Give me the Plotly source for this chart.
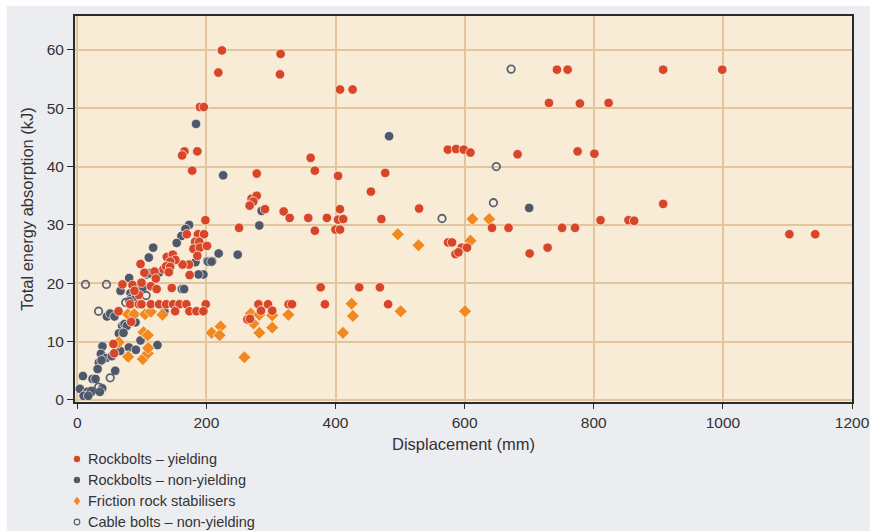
import plotly.graph_objects as go

# ---------------- data (displacement mm, energy kJ) ----------------
yield_x = [224, 218.5, 190, 196, 166, 162.4, 186, 178, 278,
           315, 314, 407, 426.5, 361.5, 368, 404, 477,
           454.8, 270, 278, 272.7, 267, 290.8, 319.7, 329, 357.8, 386.7, 404, 412, 406.8, 471, 368, 400, 407, 250.6, 198.5,
           377, 436.7, 468.7,
           383.6, 280.5, 295.4, 327.4, 332.6, 284.6, 302, 263.5, 267.6, 481.5,
           743, 759.5, 730.6, 778.5, 823, 574, 586.7, 598.6, 609, 682, 775, 801, 529.5, 810.5,
           642.4, 668, 751, 771, 574.3, 580.5, 595.5, 603.7, 585.8, 590.4, 700.7, 728.5,
           907.5, 999, 907.5, 853.8, 862.6, 1103, 1143,
           187, 196.4, 182.5, 189, 180, 190, 201, 186, 169.7, 173, 163, 138.7, 148, 152, 143.9, 133.5, 137.7, 143.9, 141.8,
           104, 119.6, 121.7, 174, 98, 70, 85.5, 99.5, 114, 146.4, 95.4, 88.6, 123,
           82, 95.4, 99.5, 114, 126.8, 137.7, 148.5, 158.3, 169, 199,
           63.9, 151.6, 173.7, 184.5, 195.4,
           83.5, 56, 57.2]
yield_y = [59.9, 56.1, 50.2, 50.2, 42.6, 41.9, 42.6, 39.3, 38.8,
           59.3, 55.8, 53.2, 53.2, 41.5, 39.3, 38.4, 38.9,
           35.7, 34.5, 35.0, 34.0, 33.3, 32.7, 32.3, 31.2, 31.2, 31.2, 30.9, 31.0, 32.7, 31.0, 29.0, 29.2, 29.2, 29.5, 30.8,
           19.3, 19.3, 19.3,
           16.4, 16.4, 16.4, 16.4, 16.4, 15.3, 15.3, 13.8, 13.9, 16.4,
           56.6, 56.6, 50.9, 50.8, 50.9, 42.9, 43.0, 42.9, 42.4, 42.1, 42.6, 42.2, 32.8, 30.8,
           29.5, 29.5, 29.5, 29.5, 27.0, 27.0, 26.1, 26.1, 25.0, 25.3, 25.1, 26.1,
           56.6, 56.6, 33.6, 30.8, 30.7, 28.4, 28.4,
           28.4, 28.4, 27.1, 27.1, 25.9, 26.1, 26.4, 24.7, 28.4, 23.2, 23.2, 24.5, 24.9, 24.0, 23.7, 22.4, 22.9, 22.8, 21.9,
           21.8, 22.0, 20.8, 21.4, 23.3, 19.8, 19.7, 20.1, 19.5, 19.2, 18.0, 18.7, 19.0,
           16.4, 16.4, 16.4, 16.4, 16.4, 16.4, 16.4, 16.4, 16.4, 16.4,
           15.2, 15.2, 15.2, 15.2, 15.2,
           13.4, 9.6, 8.0]

nonyield_x = [184, 226, 285.6, 282, 219, 248.5, 201, 209, 195.4, 187.7, 483, 700,
              173.2, 167.5, 161.3, 154, 117.6, 110.8, 183, 202.6, 208, 126.8, 107.8, 111.9, 80.4, 162, 165.5,
              67, 82.5, 98, 101.5, 83.5, 89.7, 81, 135, 46, 51, 57.7, 90.2, 69.6, 73.2, 76.8, 64.4, 71.6,
              39, 36.6, 44.8, 53.6, 66.5, 80, 90.8, 98, 124.2, 33.4, 37.6, 31.5, 58.8, 8.8, 23.7, 28.3,
              4.1, 15.5, 21.7, 38.7, 35, 9.8, 17]
nonyield_y = [47.3, 38.5, 32.4, 29.9, 25.1, 24.9, 23.8, 23.8, 21.5, 21.5, 45.2, 32.9,
              30.0, 29.3, 28.1, 26.9, 26.1, 24.4, 23.6, 23.7, 23.7, 21.8, 21.5, 21.7, 20.9, 19.0, 19.0,
              18.7, 18.3, 19.8, 19.3, 17.4, 17.4, 16.9, 15.2, 14.3, 14.8, 14.3, 13.3, 12.7, 13.0, 12.7, 11.4, 11.5,
              9.2, 7.9, 7.2, 7.5, 8.4, 9.0, 8.6, 10.2, 9.4, 6.4, 6.8, 5.3, 5.0, 4.1, 3.6, 3.6,
              1.9, 1.4, 1.4, 2.0, 1.4, 0.7, 0.7]

friction_x = [268.7, 282, 302, 327, 273, 302, 282, 222, 208, 220.5, 258.8, 425, 427, 411.5,
              612, 638, 496.5, 528.5, 609, 501, 600.6,
              78.4, 88.2, 105, 114, 132, 102.6, 109.3, 64.4, 78.9, 101.6, 109.3, 109.8]
friction_y = [14.8, 14.6, 14.5, 14.6, 13.1, 12.4, 11.5, 12.6, 11.5, 11.1, 7.3, 16.5, 14.4, 11.5,
              31.0, 31.0, 28.4, 26.5, 27.3, 15.2, 15.2,
              14.7, 14.7, 14.7, 15.1, 14.6, 11.6, 11.1, 9.9, 7.4, 7.0, 8.0, 8.9]

cable_x = [672, 649, 644.6, 565, 12.8, 45.3, 33, 106.7, 75, 51, 22, 33]
cable_y = [56.7, 40.0, 33.8, 31.1, 19.8, 19.8, 15.2, 17.9, 16.7, 3.8, 1.5, 2.2]

series_names = ["Rockbolts – yielding", "Rockbolts – non-yielding",
                "Friction rock stabilisers", "Cable bolts – non-yielding"]

x_ticks = [0, 200, 400, 600, 800, 1000, 1200]
y_ticks = [0, 10, 20, 30, 40, 50, 60]

# ---------------- styles ----------------
RED = "#D8462A"
GREY = "#4E586B"
ORANGE = "#F0891F"
OPEN = "#5A6376"
PLOT_BG = "#F9ECD7"
GRID = "#E2C59C"
PANEL = "#ECEDF1"
FONT = "Liberation Sans, Arial, Helvetica, sans-serif"
edge = dict(width=0.8, color="rgba(255,245,230,0.9)")

W, H = 870, 531
ML, MR, MT, MB = 75, 18, 16, 129
PW, PH = W - ML - MR, H - MT - MB


def px_to_paper(px, py):
    return (px - ML) / PW, (H - MB - py) / PH


fig = go.Figure()
fig.add_trace(go.Scatter(x=nonyield_x, y=nonyield_y, mode="markers", name=series_names[1], showlegend=False,
                         marker=dict(symbol="circle", size=9.5, color=GREY, line=edge)))
fig.add_trace(go.Scatter(x=cable_x, y=cable_y, mode="markers", name=series_names[3], showlegend=False,
                         marker=dict(symbol="circle-open", size=7.5, color=OPEN, line=dict(width=1.8))))
fig.add_trace(go.Scatter(x=friction_x, y=friction_y, mode="markers", name=series_names[2], showlegend=False,
                         marker=dict(symbol="diamond", size=10, color=ORANGE, line=edge)))
fig.add_trace(go.Scatter(x=yield_x, y=yield_y, mode="markers", name=series_names[0], showlegend=False,
                         marker=dict(symbol="circle", size=9.5, color=RED, line=edge)))

# ---------------- manual legend below the plot ----------------
shapes = [
    dict(type="rect", xref="paper", yref="paper", x0=-0.088, x1=1.03, y0=-0.34, y1=1.026,
         fillcolor=PANEL, line=dict(width=0), layer="below"),
    dict(type="rect", xref="paper", yref="paper", x0=0, x1=1, y0=0, y1=1,
         fillcolor=PLOT_BG, line=dict(width=0), layer="below"),
]
annotations = []
leg_kinds = ["dot", "dot", "diamond", "open"]
leg_colors = [RED, GREY, ORANGE, OPEN]
for i, (name, kind, col) in enumerate(zip(series_names, leg_kinds, leg_colors)):
    cy = 459 + 21 * i
    sx, sy = px_to_paper(77, cy)
    tx, _ = px_to_paper(86, cy)
    base = dict(xref="paper", yref="paper", xsizemode="pixel", ysizemode="pixel",
                xanchor=sx, yanchor=sy, layer="above")
    if kind == "dot":
        shapes.append(dict(type="circle", x0=-3.2, x1=3.2, y0=-3.2, y1=3.2,
                           fillcolor=col, line=dict(width=0), **base))
    elif kind == "open":
        shapes.append(dict(type="circle", x0=-2.8, x1=2.8, y0=-2.8, y1=2.8,
                           fillcolor="rgba(0,0,0,0)", line=dict(width=1.2, color=col), **base))
    else:
        shapes.append(dict(type="path", path="M 0,4.2 L 3.3,0 L 0,-4.2 L -3.3,0 Z",
                           fillcolor=col, line=dict(width=0), **base))
    annotations.append(dict(xref="paper", yref="paper", x=tx, y=sy, xanchor="left", yanchor="middle",
                            text=name, showarrow=False, font=dict(size=14.5, color="#333")))

fig.update_layout(
    width=W, height=H,
    margin=dict(l=ML, r=MR, t=MT, b=MB),
    paper_bgcolor="white",
    plot_bgcolor=PLOT_BG,
    showlegend=False,
    font=dict(family=FONT, size=14, color="#333333"),
    shapes=shapes,
    annotations=annotations,
    xaxis=dict(range=[-3.5, 1200], tickvals=x_ticks, showgrid=True, gridcolor=GRID, gridwidth=1.5,
               zeroline=False, showline=True, linecolor="#2b2b2b", linewidth=2, mirror=True,
               ticks="outside", ticklen=5, tickcolor="#2b2b2b", tickwidth=1, automargin=False,
               tickfont=dict(size=15.5, color="#333"),
               title=dict(text="Displacement (mm)", font=dict(size=16.5, color="#333"), standoff=9)),
    yaxis=dict(range=[-0.35, 65.8], tickvals=y_ticks, showgrid=True, gridcolor=GRID, gridwidth=1.5,
               zeroline=False, showline=True, linecolor="#2b2b2b", linewidth=2, mirror=True,
               ticks="outside", ticklen=6, tickcolor="#2b2b2b", tickwidth=1, automargin=False,
               tickfont=dict(size=15.5, color="#333"),
               title=dict(text="Total energy absorption (kJ)", font=dict(size=16.5, color="#333"), standoff=9)),
)

fig.write_html("out.html")
